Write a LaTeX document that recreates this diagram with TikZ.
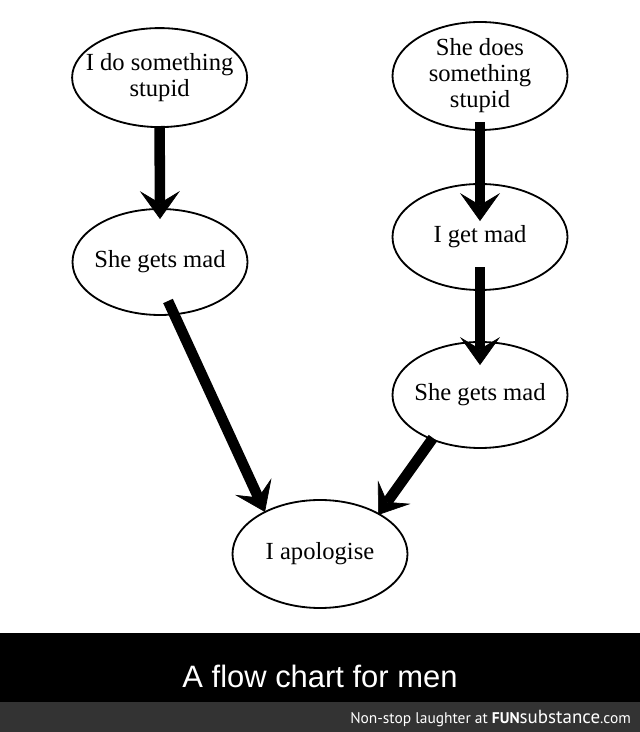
\documentclass[tikz,border=0pt]{standalone}
\usepackage{fontspec}
\setmainfont{Liberation Serif}
\newfontfamily\capfont{Liberation Sans}
\newfontfamily\footfont{PT Sans}
\usepackage{xcolor}
\usepackage{tikz}
\usetikzlibrary{shapes,arrows.meta,positioning,calc}
\definecolor{footgray}{RGB}{51,51,51}
\tikzstyle{bubble} = [ellipse, draw, line width=1.3pt, minimum width=4.375cm, minimum height=2.65cm, inner xsep=-12pt, inner ysep=-6pt, align=center, font=\fontsize{17.5}{18.5}\selectfont]
\tikzstyle{fatarrow} = [line width=7.5pt, -{Stealth[length=0.7cm, width=1.0cm, inset=0.3cm, line width=0.5pt]}]
\tikzstyle{caption} = [text=white, inner sep=0pt]

\begin{document}
\begin{tikzpicture}
    \path[use as bounding box, fill=white] (0,0) rectangle (16,18.3);
    % bottom bars
    \fill[black] (0,0.75) rectangle (16,2.475);
    \fill[footgray] (0,0) rectangle (16,0.75);
    \node[bubble, minimum height=2.475cm] (me1) at (3.99,16.36) {I do something\\stupid};
    \node[bubble, minimum height=2.7cm] (she1) at (12.0,16.4) {She does\\something\\stupid};
    \node[bubble] (she2) at (4.0,11.75) {She gets mad};
    \node[bubble] (me2) at (12.0,12.375) {I get mad};
    \node[bubble] (she3) at (12.0,8.425) {She gets mad};
    \node[bubble, minimum height=2.7cm] (sorry) at (8.0,4.45) {I apologise};
    \draw[fatarrow] ([yshift=0.05cm]me1.south) -- ([yshift=-0.275cm]she2.north);
    \draw[fatarrow] ([yshift=0.225cm]she1.south) -- ([yshift=-0.95cm]me2.north);
    \draw[fatarrow] ([yshift=0.59cm]me2.south) -- ([yshift=-0.6cm]she3.north);
    \draw[fatarrow] ([shift={(0.2,-0.975)}]she2.center) -- ([shift={(-1.375,1.05)}]sorry.center);
    \draw[fatarrow] ([shift={(-1.175,-1.075)}]she3.center) -- ([shift={(1.45,0.975)}]sorry.center);
    \node[caption, font=\capfont\fontsize{22}{22}\selectfont] (title) at (8.0,1.4) {A flow chart for men};
    \node[caption, anchor=east, font=\footfont\fontsize{11}{11}\selectfont] (credit) at (15.78,0.35) {Non-stop laughter at \textbf{FUN}{\fontsize{13.5}{13}\selectfont substance}.com};
\end{tikzpicture}
\end{document}
